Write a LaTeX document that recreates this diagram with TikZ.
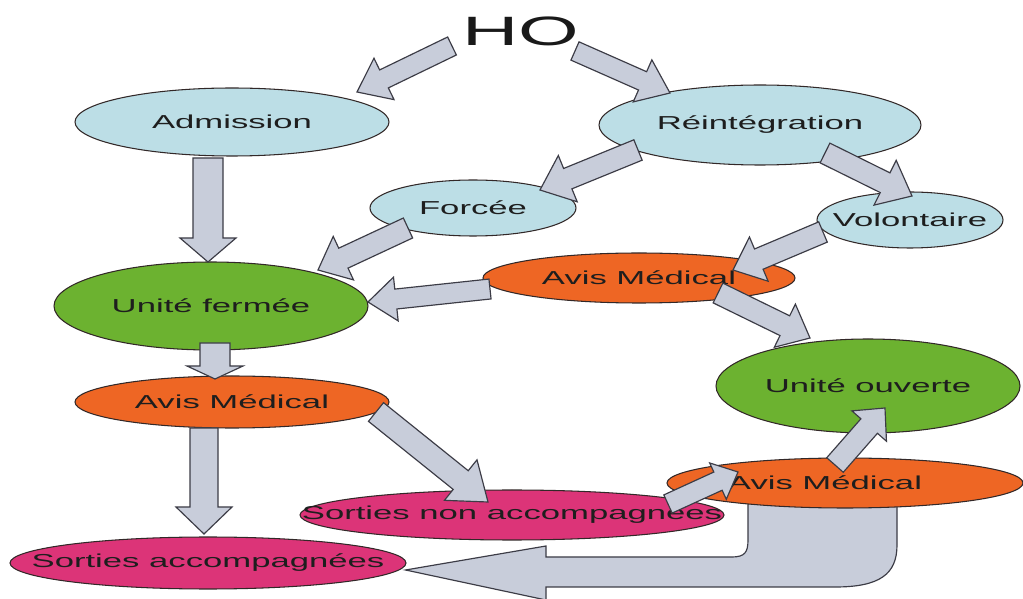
\documentclass[tikz,border=0pt]{standalone}
\usepackage{fontspec}
\setmainfont{Liberation Sans}
\newfontfamily\labfont[FakeStretch=1.85]{Liberation Sans}
\newfontfamily\hofont[FakeStretch=1.9]{Liberation Sans}
\usetikzlibrary{shapes.geometric,calc}
\definecolor{lblue}{RGB}{188,222,230}
\definecolor{lgreen}{RGB}{108,178,48}
\definecolor{lorange}{RGB}{238,102,36}
\definecolor{lpink}{RGB}{220,52,120}
\definecolor{afill}{RGB}{200,205,218}
\definecolor{aedge}{RGB}{60,60,70}
\definecolor{edge}{RGB}{50,40,40}
\definecolor{txt}{RGB}{30,30,30}
\pgfdeclarelayer{bg}
\pgfsetlayers{bg,main}
\tikzset{
  ell/.style={ellipse, draw=edge, line width=0.9pt, inner sep=0pt, text=txt,
    font=\labfont\fontsize{16}{19}\selectfont},
  sz/.style 2 args={minimum width=#1*0.06cm, minimum height=#2*0.06cm},
  barrow/.style={fill=afill, draw=aedge, line width=1pt, line join=miter},
}
\newcommand\T[1]{\makebox[0pt]{#1}}
% #1 from node, #2 offset, #3 to node, #4 offset, #5 half shaft, #6 half head, #7 head length (px)
\newcommand\blockarrow[7]{%
  \path ($(#1)+(#2)$) coordinate (ba-a) ($(#3)+(#4)$) coordinate (ba-b);
  \path ($(ba-b)!#7*0.03cm!(ba-a)$) coordinate (ba-n);
  \draw[barrow] ($(ba-a)!#5*0.03cm!90:(ba-b)$) -- ($(ba-n)!#5*0.03cm!90:(ba-b)$)
    -- ($(ba-n)!#6*0.03cm!90:(ba-b)$) -- (ba-b) -- ($(ba-n)!#6*0.03cm!-90:(ba-b)$)
    -- ($(ba-n)!#5*0.03cm!-90:(ba-b)$) -- ($(ba-a)!#5*0.03cm!-90:(ba-b)$) -- cycle;}
\begin{document}
\begin{tikzpicture}[x=0.03cm,y=-0.03cm]
\useasboundingbox (0,0) rectangle (1023,599);
% nodes
\node[font=\hofont\fontsize{35}{40}\selectfont, text=black!90, inner sep=0pt] (ho) at (521,31) {HO};
\node[ell, fill=lblue, sz={157}{34}] (adm) at (232,122) {\T{Admission}};
\node[ell, fill=lblue, sz={161}{40}] (rei) at (760,125) {\T{Réintégration}};
\node[ell, fill=lblue, sz={103}{28}] (forc) at (473,208) {\T{Forcée}};
\node[ell, fill=lblue, sz={93}{28}] (vol) at (910,220) {\T{Volontaire}};
\node[ell, fill=lorange, sz={156}{25}] (avm) at (639,278) {\T{Avis Médical}};
\node[ell, fill=lgreen, sz={157}{44}] (uf) at (211,306) {\T{Unité fermée}};
\node[ell, fill=lgreen, sz={152}{47}] (uo) at (868,386) {\T{Unité ouverte}};
\node[ell, fill=lorange, sz={157}{26}] (avl) at (232,402) {\T{Avis Médical}};
\node[ell, fill=lorange, sz={178}{25}] (avr) at (845,483) {\T{\kern-1.2cm Avis Médical}};
\node[ell, fill=lpink, sz={212}{25}] (sna) at (512,515) {\T{Sorties non accompagnées}};
\node[ell, fill=lpink, sz={198}{26}] (sa) at (208,563) {\T{Sorties accompagnées}};
% background: white and U-turn arrow
\begin{pgfonlayer}{bg}
\fill[white] (0,0) rectangle (1023,599);
\coordinate (ut) at ($(sa.east)+(-1,7)$);
\coordinate (u1) at ($(avr)+(-97,17)$);
\coordinate (u2) at ($(avr)+(52,17)$);
\draw[barrow] (ut) -- (546,546) -- (546,557) -- (732,557)
  .. controls (745,557) and (748,552) .. (748,540) -- (u1) -- (u2) -- (897,545)
  .. controls (897,574) and (880,587) .. (835,587) -- (546,587) -- (546,600) -- cycle;
\end{pgfonlayer}
% block arrows
\blockarrow{ho}{-69,15}{adm}{125,-30}{10}{23}{30}
\blockarrow{ho}{54,20}{rei}{-90,-32}{10}{23}{30}
\blockarrow{adm}{-24,36}{uf}{-3,-44}{15}{28}{24}
\blockarrow{rei}{-122,25}{forc}{67,-18}{11}{25}{30}
\blockarrow{rei}{65,28}{vol}{2,-24}{11}{25}{30}
\blockarrow{forc}{-65,20}{uf}{107,-36}{11}{24}{28}
\blockarrow{vol}{-87,12}{avm}{94,-8}{11}{24}{28}
\blockarrow{avm}{-149,11}{uf}{157,-4}{10}{22}{28}
\blockarrow{avm}{79,15}{uo}{-58,-48}{11}{24}{28}
\blockarrow{uf}{4,37}{avl}{-17,-23}{15}{28}{13}
\blockarrow{avl}{-28,26}{sa}{-4,-29}{14}{28}{27}
\blockarrow{avl}{144,10}{sna}{-24,-13}{12}{26}{35}
\blockarrow{sna}{156,-11}{avr}{-107,-11}{10}{20}{22}
\blockarrow{avr}{-10,-18}{uo}{17,22}{11}{23}{24}
\end{tikzpicture}
\end{document}
